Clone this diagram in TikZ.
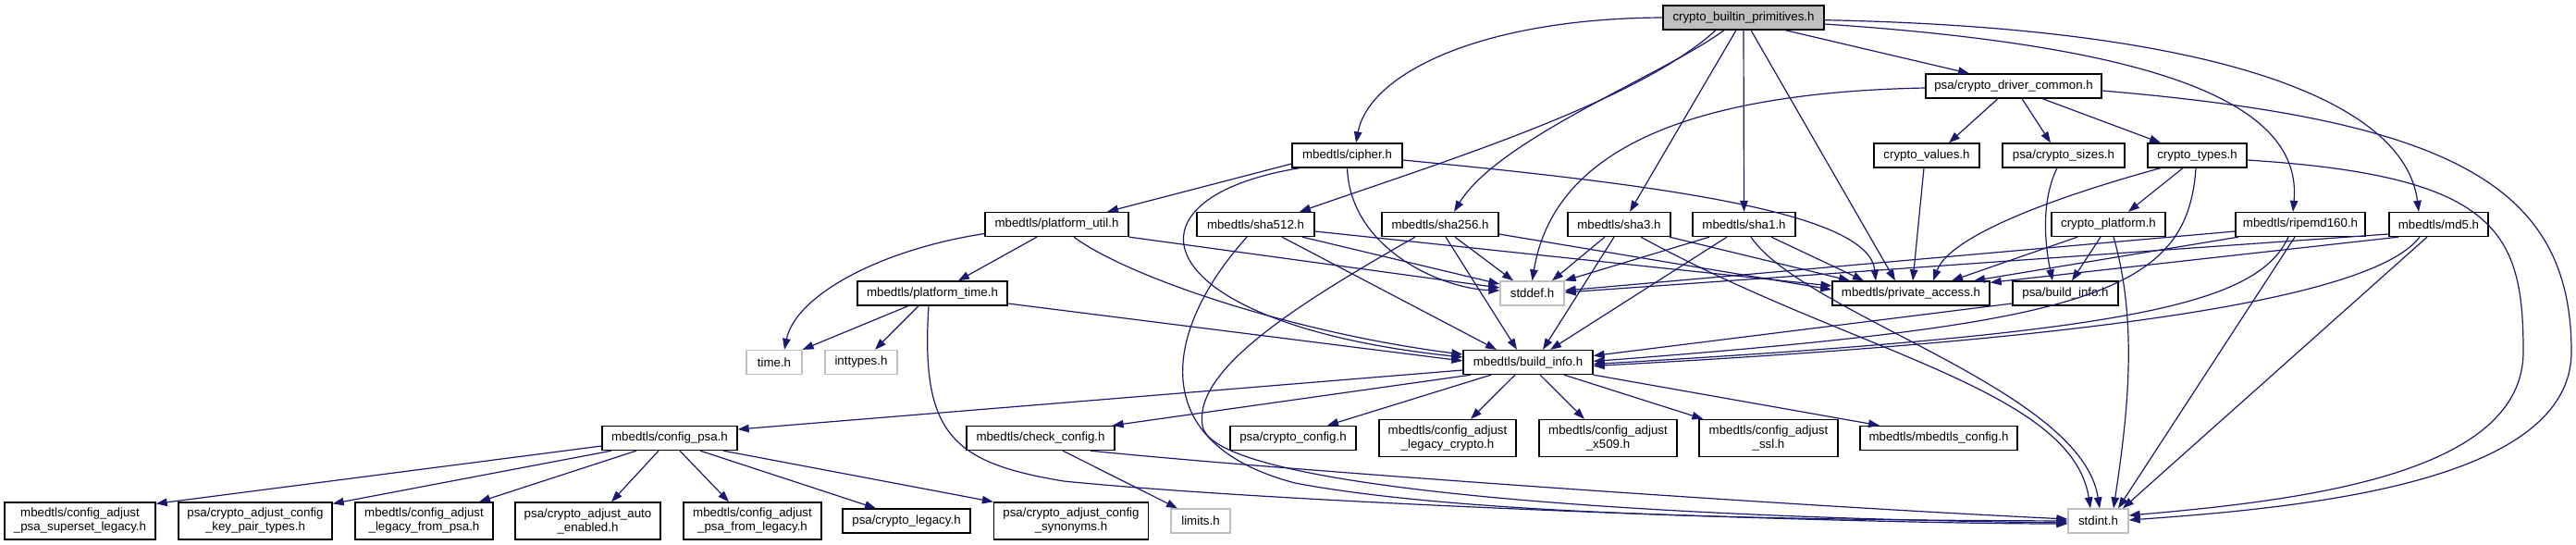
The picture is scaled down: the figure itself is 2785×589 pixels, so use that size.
\documentclass[tikz,border=0pt]{standalone}
\usepackage{fontspec}
\setmainfont{Liberation Sans}
\usetikzlibrary{arrows.meta}
\definecolor{edgeblue}{RGB}{25,25,112}
\definecolor{greyfill}{RGB}{191,191,191}
\begin{document}
\begin{tikzpicture}[x=1pt,y=-1pt,
  box/.style={draw=black, fill=white, line width=1.3pt, inner sep=0pt, minimum height=26pt,
    font=\fontsize{13.3pt}{15pt}\selectfont, align=center},
  sysbox/.style={box, draw=greyfill},
  rootbox/.style={box, fill=greyfill},
  twoline/.style={box, minimum height=40pt},
  e/.style={draw=edgeblue, line width=1.2pt, -{Triangle[length=12pt,width=8.5pt]}}]
\fill[white] (0,0) rectangle (2785,589);
\useasboundingbox (0,0) rectangle (2785,589);
% row 0
\node[rootbox, minimum width=174pt] (root) at (1885,19) {crypto\_builtin\_primitives.h};
% row 1
\node[box, minimum width=190pt] (drv) at (2177,93) {psa/crypto\_driver\_common.h};
% row 2
\node[box, minimum width=119pt] (cipher) at (1456.5,168) {mbedtls/cipher.h};
\node[box, minimum width=114pt] (values) at (2083,168) {crypto\_values.h};
\node[box, minimum width=132pt] (sizes) at (2231,168) {psa/crypto\_sizes.h};
\node[box, minimum width=107pt] (types) at (2375.5,168) {crypto\_types.h};
% row 3
\node[box, minimum width=155pt] (putil) at (1142.5,242.5) {mbedtls/platform\_util.h};
\node[box, minimum width=127pt] (sha512) at (1357.5,242.5) {mbedtls/sha512.h};
\node[box, minimum width=126pt] (sha256) at (1557,242.5) {mbedtls/sha256.h};
\node[box, minimum width=111pt] (sha3) at (1750.5,242.5) {mbedtls/sha3.h};
\node[box, minimum width=111pt] (sha1) at (1885.5,242.5) {mbedtls/sha1.h};
\node[box, minimum width=123pt] (platform) at (2279.5,242.5) {crypto\_platform.h};
\node[box, minimum width=140pt] (ripemd) at (2487,242.5) {mbedtls/ripemd160.h};
\node[box, minimum width=107pt] (md5) at (2636.5,242.5) {mbedtls/md5.h};
% row 4
\node[box, minimum width=162pt] (ptime) at (1008,317) {mbedtls/platform\_time.h};
\node[sysbox, minimum width=69pt] (stddef) at (1656.5,317) {stddef.h};
\node[box, minimum width=170pt] (privacc) at (2066,317) {mbedtls/private\_access.h};
\node[box, minimum width=114pt] (psabuild) at (2233,317) {psa/build\_info.h};
% row 5
\node[sysbox, minimum width=60pt] (timeh) at (837,391.5) {time.h};
\node[sysbox, minimum width=78pt] (inttypes) at (931,391.5) {inttypes.h};
\node[box, minimum width=140pt] (buildinfo) at (1652,391.5) {mbedtls/build\_info.h};
% row 6
\node[box, minimum width=146pt] (configpsa) at (724,473.5) {mbedtls/config\_psa.h};
\node[box, minimum width=160pt] (checkconfig) at (1125,473.5) {mbedtls/check\_config.h};
\node[box, minimum width=136pt] (psaconfig) at (1398,473.5) {psa/crypto\_config.h};
\node[twoline, minimum width=148pt] (legcrypto) at (1565,473.5) {mbedtls/config\_adjust\\\_legacy\_crypto.h};
\node[twoline, minimum width=149pt] (x509) at (1738.5,473.5) {mbedtls/config\_adjust\\\_x509.h};
\node[twoline, minimum width=150pt] (ssl) at (1912,473.5) {mbedtls/config\_adjust\\\_ssl.h};
\node[box, minimum width=170pt] (mbedconfig) at (2096,473.5) {mbedtls/mbedtls\_config.h};
% row 7
\node[twoline, minimum width=163pt] (superset) at (86.5,563) {mbedtls/config\_adjust\\\_psa\_superset\_legacy.h};
\node[twoline, minimum width=166pt] (keypair) at (276,563) {psa/crypto\_adjust\_config\\\_key\_pair\_types.h};
\node[twoline, minimum width=149pt] (legfrompsa) at (458.5,563) {mbedtls/config\_adjust\\\_legacy\_from\_psa.h};
\node[twoline, minimum width=157pt] (autoen) at (635.5,563) {psa/crypto\_adjust\_auto\\\_enabled.h};
\node[twoline, minimum width=149pt] (psafromleg) at (813.5,563) {mbedtls/config\_adjust\\\_psa\_from\_legacy.h};
\node[box, minimum width=138pt] (psalegacy) at (980,563) {psa/crypto\_legacy.h};
\node[twoline, minimum width=167pt] (synonyms) at (1158,563) {psa/crypto\_adjust\_config\\\_synonyms.h};
\node[sysbox, minimum width=64pt] (limits) at (1298,563) {limits.h};
\node[sysbox, minimum width=65pt] (stdint) at (2268.5,563) {stdint.h};
% ---- edges ----
% root
\draw[e] (root.west) .. controls (1600,20) and (1480,80) .. ([xshift=9.5pt]cipher.north);
\draw[e] ([xshift=-30pt]root.south) .. controls (1770,110) and (1560,175) .. ([xshift=47.5pt]sha512.north);
\draw[e] ([xshift=-21pt]root.south) .. controls (1800,80) and (1620,150) .. ([xshift=15pt]sha256.north);
\draw[e] ([xshift=-8pt]root.south) -- ([xshift=11.5pt]sha3.north);
\draw[e] (root.south) -- (sha1.north);
\draw[e] ([xshift=8pt]root.south) -- ([xshift=-17pt]privacc.north);
\draw[e] ([xshift=45pt]root.south) -- ([xshift=-48pt]drv.north);
\draw[e] ([yshift=-7pt]root.east) .. controls (2330,50) and (2490,110) .. ([xshift=-8pt]ripemd.north);
\draw[e] ([yshift=-2.7pt]root.east) .. controls (2400,30) and (2600,110) .. ([xshift=-21.5pt]md5.north);
% drv
\draw[e] ([yshift=-2pt]drv.west) .. controls (1830,100) and (1680,160) .. (stddef.north);
\draw[e] ([xshift=-17pt]drv.south) -- ([xshift=24pt]values.north);
\draw[e] ([xshift=9pt]drv.south) -- ([xshift=-14pt]sizes.north);
\draw[e] ([xshift=31pt]drv.south) -- ([xshift=-39.5pt]types.north);
\draw[e] ([yshift=-5pt]drv.east) .. controls (2650,130) and (2780,200) .. (2780,380) .. controls (2780,520) and (2500,548) .. ([yshift=1pt]stdint.east);
% values, sizes
\draw[e] ([xshift=-3pt]values.south) -- ([xshift=2pt]privacc.north);
\draw[e] ([xshift=-7pt]sizes.south) .. controls (2205,220) and (2212,270) .. ([xshift=-14pt]psabuild.north);
% types
\draw[e] ([xshift=-39.5pt]types.south) .. controls (2250,205) and (2110,250) .. ([xshift=24pt]privacc.north);
\draw[e] ([xshift=-15.5pt]types.south) -- ([xshift=21.5pt]platform.north);
\draw[e] ([xshift=-1.5pt]types.south) .. controls (2365,320) and (2250,350) .. ([yshift=1pt]buildinfo.east);
\draw[e] ([yshift=-5pt]types.east) .. controls (2700,190) and (2728,250) .. (2728,380) .. controls (2728,510) and (2500,540) .. ([yshift=6pt]stdint.east);
% platform
\draw[e] ([xshift=-33.5pt]platform.south) -- ([xshift=44pt]privacc.north);
\draw[e] ([xshift=-8.5pt]platform.south) -- ([xshift=7pt]psabuild.north);
\draw[e] ([xshift=5.5pt]platform.south) .. controls (2312,350) and (2300,450) .. ([xshift=16.5pt]stdint.north);
% ripemd
\draw[e] ([yshift=-7.5pt]ripemd.west) -- ([yshift=3pt]stddef.east);
\draw[e] ([xshift=-67pt]ripemd.south) -- ([xshift=68pt]privacc.north);
\draw[e] ([xshift=-13pt]ripemd.south) .. controls (2440,330) and (2300,360) .. ([yshift=-2pt]buildinfo.east);
\draw[e] ([xshift=-6pt]ripemd.south) -- ([xshift=21.5pt]stdint.north);
% md5
\draw[e] ([yshift=-10.5pt]md5.west) -- ([yshift=1pt]stddef.east);
\draw[e] ([xshift=-43.5pt]md5.south) -- ([yshift=-2pt]privacc.north east);
\draw[e] ([xshift=-20.5pt]md5.south) .. controls (2560,330) and (2200,370) .. ([yshift=-4pt]buildinfo.east);
\draw[e] ([xshift=-12.5pt]md5.south) -- ([xshift=26.5pt]stdint.north);
% sha512
\draw[e] ([xshift=-9.5pt]sha512.south) .. controls (1255,360) and (1240,480) .. (1400,522) .. controls (1600,560) and (2000,562) .. (stdint.west);
\draw[e] ([xshift=28.5pt]sha512.south) -- ([xshift=-34pt]buildinfo.north);
\draw[e] ([xshift=50.5pt]sha512.south) -- ([yshift=10pt]stddef.west);
\draw[e] ([yshift=-7.5pt]sha512.east) -- ([yshift=8pt]privacc.west);
% sha256
\draw[e] ([xshift=-27pt]sha256.south) .. controls (1400,330) and (1290,400) .. (1300,460) .. controls (1310,530) and (1800,560) .. ([yshift=-2pt]stdint.west);
\draw[e] ([xshift=6pt]sha256.south) -- ([xshift=-12pt]buildinfo.north);
\draw[e] ([xshift=16pt]sha256.south) -- ([xshift=-20.5pt]stddef.north);
\draw[e] ([yshift=-10.5pt]sha256.east) -- ([yshift=4pt]privacc.west);
% sha3
\draw[e] ([xshift=-15.5pt]sha3.south) -- ([xshift=21.5pt]stddef.north);
\draw[e] ([xshift=-5.5pt]sha3.south) -- ([xshift=16pt]buildinfo.north);
\draw[e] ([xshift=23.5pt]sha3.south) .. controls (2000,380) and (2240,420) .. ([xshift=-8.5pt]stdint.north);
\draw[e] ([xshift=54.5pt]sha3.south) -- ([xshift=-66pt]privacc.north);
% sha1
\draw[e] ([xshift=-37.5pt]sha1.south) -- (stddef.north east);
\draw[e] ([xshift=-18.5pt]sha1.south) -- ([xshift=24pt]buildinfo.north);
\draw[e] ([xshift=7.5pt]sha1.south) .. controls (1950,340) and (2250,420) .. ([xshift=1.5pt]stdint.north);
\draw[e] ([xshift=29.5pt]sha1.south) -- ([xshift=-51pt]privacc.north);
% cipher
\draw[e] ([yshift=-9pt]cipher.west) -- ([xshift=54.5pt]putil.north);
\draw[e] ([xshift=-51.5pt]cipher.south) .. controls (1200,215) and (1240,350) .. ([yshift=5.5pt]buildinfo.west);
\draw[e] (cipher.south) .. controls (1460,270) and (1560,312) .. ([yshift=3pt]stddef.west);
\draw[e] ([yshift=-5pt]cipher.east) .. controls (1800,200) and (2020,230) .. ([xshift=-38pt]privacc.north);
% platform_util
\draw[e] ([yshift=-10pt]putil.west) .. controls (950,270) and (860,320) .. ([xshift=11pt]timeh.north);
\draw[e] ([xshift=-21.5pt]putil.south) -- ([xshift=28pt]ptime.north);
\draw[e] ([xshift=18.5pt]putil.south) .. controls (1220,300) and (1400,360) .. ([yshift=8.5pt]buildinfo.west);
\draw[e] (putil.south east) -- ([yshift=6pt]stddef.west);
% platform_time
\draw[e] ([xshift=-26pt]ptime.south) -- (timeh.north east);
\draw[e] ([xshift=-15pt]ptime.south) -- ([xshift=15pt]inttypes.north);
\draw[e] ([xshift=-4pt]ptime.south) .. controls (995,470) and (1030,500) .. (1150,520) .. controls (1400,545) and (2000,566) .. ([yshift=-3pt]stdint.west);
\draw[e] ([yshift=-11pt]ptime.east) -- ([yshift=1.5pt]buildinfo.west);
% build_info
\draw[e] ([yshift=-8.5pt]buildinfo.west) -- ([yshift=9.5pt]configpsa.east);
\draw[e] ([xshift=-62pt]buildinfo.south) -- ([xshift=-3pt]checkconfig.north east);
\draw[e] ([xshift=-40pt]buildinfo.south) -- ([xshift=37pt]psaconfig.north);
\draw[e] ([xshift=-14pt]buildinfo.south) -- ([xshift=25pt]legcrypto.north);
\draw[e] ([xshift=13pt]buildinfo.south) -- ([xshift=-25.5pt]x509.north);
\draw[e] ([xshift=39pt]buildinfo.south) -- ([xshift=5pt]ssl.north west);
\draw[e] (buildinfo.south east) -- ([xshift=-64pt]mbedconfig.north);
% config_psa
\draw[e] ([yshift=-8.5pt]configpsa.west) -- ([yshift=-2pt]superset.north east);
\draw[e] ([xshift=-63pt]configpsa.south) -- ([yshift=-2pt]keypair.north east);
\draw[e] ([xshift=-36pt]configpsa.south) -- ([xshift=59.5pt]legfrompsa.north);
\draw[e] ([xshift=-12pt]configpsa.south) -- ([xshift=25.5pt]autoen.north);
\draw[e] ([xshift=11pt]configpsa.south) -- ([xshift=-25.5pt]psafromleg.north);
\draw[e] ([xshift=33pt]configpsa.south) -- ([xshift=-33pt]psalegacy.north);
\draw[e] ([xshift=58pt]configpsa.south) -- (synonyms.north west);
% check_config
\draw[e] ([xshift=24pt]checkconfig.south) -- ([xshift=-25pt]limits.north);
\draw[e] ([xshift=54pt]checkconfig.south) .. controls (1350,505) and (1900,545) .. ([yshift=2pt]stdint.west);
% psa/build_info
\draw[e] ([yshift=-11pt]psabuild.west) -- ([yshift=7pt]buildinfo.east);
\end{tikzpicture}
\end{document}
